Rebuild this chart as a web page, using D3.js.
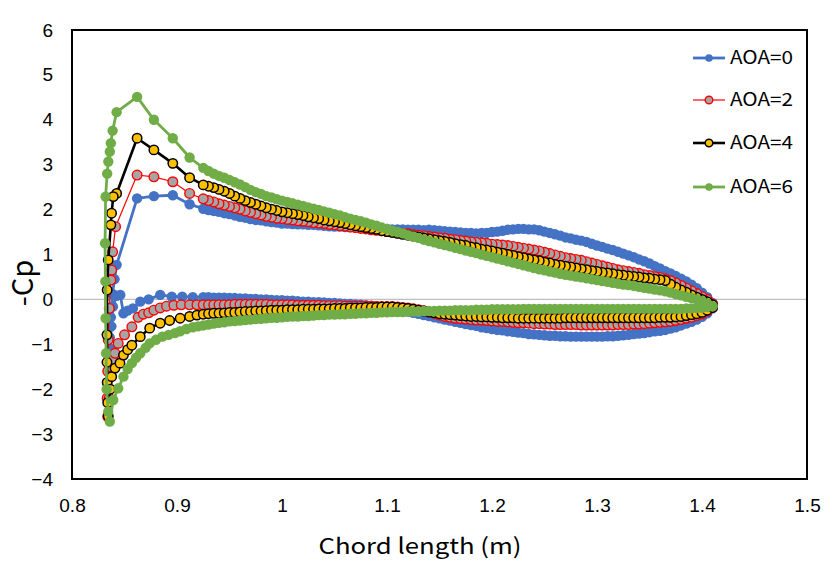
<!DOCTYPE html>
<html><head><meta charset="utf-8">
<script src="https://cdn.jsdelivr.net/npm/d3@7"></script>
<style>body{margin:0;background:#fff}</style>
</head><body>
<svg id="chart" width="836" height="563"></svg>
<script>
// ---- data ----
const seriesNames = ["AOA=0", "AOA=2", "AOA=4", "AOA=6"];
const xTicks = [0.8, 0.9, 1.0, 1.1, 1.2, 1.3, 1.4, 1.5];
const xTickLabels = ["0.8", "0.9", "1", "1.1", "1.2", "1.3", "1.4", "1.5"];
const yTicks = [-4, -3, -2, -1, 0, 1, 2, 3, 4, 5, 6];

// chord stations shared by the main body of both surfaces
const xBody = [
 0.925,0.93,0.935,0.94,0.945,0.95,0.955,0.96,0.965,0.97,
 0.975,0.98,0.985,0.99,0.995,1.0,1.005,1.01,1.015,1.02,
 1.025,1.03,1.035,1.04,1.045,1.05,1.055,1.06,1.065,1.07,
 1.075,1.08,1.085,1.09,1.095,1.1,1.105,1.11,1.115,1.12,
 1.125,1.13,1.135,1.14,1.145,1.15,1.155,1.16,1.165,1.17,
 1.175,1.18,1.185,1.19,1.195,1.2,1.205,1.21,1.215,1.22,
 1.225,1.23,1.235,1.24,1.245,1.25,1.255,1.26,1.265,1.27,
 1.275,1.28,1.285,1.29,1.295,1.3,1.305,1.31,1.315,1.32,
 1.325,1.33,1.335,1.34,1.345,1.35,1.355,1.36,1.365,1.37,
 1.375,1.38,1.385,1.39,1.395,1.4,1.405,1.41];

// AOA=0
const aoa0Upper = [
 2.02,1.99,1.97,1.95,1.92,1.90,1.87,1.84,1.82,1.79,
 1.77,1.76,1.74,1.72,1.71,1.69,1.69,1.68,1.67,1.67,
 1.66,1.66,1.65,1.64,1.63,1.62,1.62,1.61,1.61,1.60,
 1.60,1.59,1.59,1.58,1.58,1.57,1.56,1.56,1.56,1.55,
 1.55,1.55,1.54,1.55,1.54,1.53,1.52,1.51,1.50,1.49,
 1.48,1.48,1.47,1.48,1.48,1.50,1.51,1.53,1.55,1.56,
 1.57,1.57,1.56,1.56,1.54,1.51,1.48,1.45,1.42,1.38,
 1.36,1.33,1.31,1.28,1.24,1.20,1.17,1.13,1.10,1.06,
 1.02,0.98,0.94,0.89,0.85,0.80,0.74,0.69,0.63,0.58,
 0.52,0.46,0.40,0.33,0.25,0.15,0.05,-0.08];
const aoa0Lower = [
 0.05,0.05,0.04,0.04,0.04,0.03,0.03,0.02,0.02,0.01,
 0.01,0.00,0.00,-0.01,-0.02,-0.02,-0.03,-0.03,-0.04,-0.05,
 -0.05,-0.06,-0.06,-0.07,-0.08,-0.08,-0.09,-0.10,-0.10,-0.11,
 -0.12,-0.13,-0.14,-0.15,-0.17,-0.18,-0.20,-0.22,-0.25,-0.27,
 -0.30,-0.32,-0.35,-0.37,-0.40,-0.42,-0.45,-0.47,-0.50,-0.52,
 -0.55,-0.57,-0.59,-0.62,-0.64,-0.66,-0.68,-0.69,-0.71,-0.72,
 -0.74,-0.75,-0.77,-0.78,-0.79,-0.80,-0.81,-0.81,-0.82,-0.82,
 -0.83,-0.83,-0.83,-0.83,-0.83,-0.83,-0.83,-0.82,-0.82,-0.81,
 -0.80,-0.79,-0.77,-0.76,-0.75,-0.73,-0.71,-0.70,-0.68,-0.65,
 -0.62,-0.58,-0.54,-0.50,-0.45,-0.39,-0.31,-0.20];
const aoa0LeX = [0.912,0.896,0.878,0.862,0.8425,0.8405,0.8385,0.837,0.836,0.8365,0.8375,0.839,0.8425,0.846,0.849,0.853,0.858,0.865,0.873,0.884,0.895,0.905,0.915];
const aoa0LeY = [2.12,2.32,2.30,2.25,0.77,0.45,0.12,-0.40,-0.85,-1.10,-0.60,-0.16,0.08,0.10,-0.31,-0.25,-0.20,-0.05,0.00,0.10,0.06,0.06,0.05];

// AOA=2
const aoa2Upper = [
 2.24,2.20,2.17,2.13,2.10,2.07,2.04,2.01,1.97,1.94,
 1.91,1.88,1.85,1.83,1.81,1.80,1.78,1.77,1.75,1.74,
 1.73,1.71,1.70,1.69,1.67,1.66,1.64,1.63,1.61,1.60,
 1.58,1.57,1.55,1.54,1.53,1.51,1.50,1.48,1.47,1.46,
 1.44,1.43,1.42,1.40,1.39,1.37,1.36,1.34,1.33,1.31,
 1.30,1.28,1.27,1.26,1.25,1.23,1.22,1.21,1.20,1.18,
 1.16,1.14,1.12,1.10,1.08,1.05,1.02,0.99,0.96,0.93,
 0.91,0.89,0.87,0.84,0.81,0.78,0.75,0.72,0.69,0.66,
 0.64,0.62,0.60,0.58,0.55,0.53,0.51,0.49,0.46,0.42,
 0.37,0.31,0.25,0.19,0.13,0.06,0.00,-0.10];
const aoa2Lower = [
 -0.12,-0.12,-0.12,-0.12,-0.12,-0.12,-0.11,-0.11,-0.11,-0.11,
 -0.11,-0.11,-0.11,-0.12,-0.12,-0.12,-0.12,-0.12,-0.13,-0.13,
 -0.13,-0.13,-0.13,-0.14,-0.14,-0.14,-0.14,-0.15,-0.15,-0.15,
 -0.15,-0.15,-0.15,-0.16,-0.16,-0.16,-0.16,-0.17,-0.18,-0.19,
 -0.21,-0.23,-0.25,-0.28,-0.31,-0.35,-0.38,-0.40,-0.42,-0.43,
 -0.44,-0.45,-0.46,-0.46,-0.47,-0.48,-0.49,-0.49,-0.50,-0.51,
 -0.52,-0.52,-0.53,-0.54,-0.54,-0.55,-0.55,-0.56,-0.56,-0.56,
 -0.56,-0.56,-0.57,-0.57,-0.57,-0.57,-0.57,-0.57,-0.57,-0.56,
 -0.56,-0.56,-0.55,-0.55,-0.54,-0.53,-0.52,-0.51,-0.50,-0.49,
 -0.47,-0.45,-0.42,-0.40,-0.36,-0.32,-0.26,-0.18];
const aoa2LeX = [0.912,0.896,0.878,0.862,0.8415,0.8387,0.8377,0.837,0.8355,0.8345,0.834,0.8335,0.834,0.8355,0.837,0.8387,0.841,0.844,0.850,0.857,0.863,0.868,0.873,0.878,0.884,0.890,0.897,0.904,0.912,0.919];
const aoa2LeY = [2.36,2.62,2.73,2.77,1.62,1.06,0.65,0.43,-0.20,-0.90,-1.60,-2.20,-2.61,-2.20,-1.50,-1.35,-1.20,-0.98,-0.79,-0.61,-0.40,-0.33,-0.30,-0.24,-0.19,-0.15,-0.13,-0.12,-0.12,-0.12];

// AOA=4
const aoa4Upper = [
 2.55,2.52,2.49,2.45,2.41,2.36,2.30,2.25,2.20,2.16,
 2.12,2.08,2.04,2.01,1.98,1.95,1.93,1.91,1.89,1.87,
 1.84,1.82,1.80,1.77,1.75,1.73,1.71,1.69,1.66,1.64,
 1.62,1.60,1.58,1.56,1.53,1.51,1.49,1.47,1.45,1.43,
 1.41,1.39,1.37,1.35,1.33,1.31,1.29,1.27,1.24,1.22,
 1.20,1.17,1.15,1.12,1.10,1.08,1.05,1.03,1.00,0.98,
 0.95,0.93,0.90,0.88,0.86,0.83,0.81,0.78,0.76,0.74,
 0.72,0.70,0.68,0.66,0.64,0.62,0.60,0.59,0.57,0.55,
 0.54,0.52,0.51,0.50,0.48,0.47,0.45,0.44,0.42,0.34,
 0.27,0.21,0.16,0.10,0.05,0.00,-0.05,-0.12];
const aoa4Lower = [
 -0.33,-0.32,-0.31,-0.31,-0.30,-0.29,-0.29,-0.28,-0.27,-0.27,
 -0.26,-0.26,-0.25,-0.24,-0.24,-0.24,-0.23,-0.23,-0.23,-0.22,
 -0.22,-0.22,-0.21,-0.21,-0.21,-0.20,-0.20,-0.20,-0.19,-0.19,
 -0.19,-0.18,-0.18,-0.18,-0.17,-0.17,-0.17,-0.18,-0.19,-0.20,
 -0.22,-0.24,-0.26,-0.28,-0.30,-0.32,-0.33,-0.34,-0.35,-0.36,
 -0.37,-0.38,-0.38,-0.39,-0.39,-0.40,-0.40,-0.41,-0.41,-0.41,
 -0.42,-0.42,-0.42,-0.42,-0.42,-0.42,-0.42,-0.42,-0.42,-0.41,
 -0.41,-0.41,-0.41,-0.41,-0.41,-0.41,-0.41,-0.41,-0.41,-0.41,
 -0.41,-0.41,-0.41,-0.41,-0.41,-0.41,-0.41,-0.40,-0.40,-0.40,
 -0.39,-0.38,-0.36,-0.34,-0.32,-0.29,-0.24,-0.18];
const aoa4LeX = [0.912,0.896,0.878,0.862,0.8425,0.8393,0.8377,0.837,0.8345,0.8335,0.8333,0.8333,0.8335,0.834,0.8345,0.8365,0.8378,0.841,0.8457,0.849,0.853,0.857,0.865,0.874,0.884,0.893,0.903,0.912,0.919];
const aoa4LeY = [2.71,3.03,3.33,3.59,2.36,2.29,1.92,1.66,0.88,0.21,-0.79,-1.40,-1.85,-2.30,-2.60,-2.00,-1.72,-1.53,-1.42,-1.24,-1.12,-1.02,-0.83,-0.64,-0.53,-0.47,-0.42,-0.38,-0.35];

// AOA=6
const aoa6Upper = [
 2.93,2.86,2.80,2.75,2.71,2.66,2.61,2.56,2.50,2.44,
 2.39,2.35,2.30,2.27,2.23,2.20,2.17,2.14,2.11,2.08,
 2.05,2.02,1.99,1.96,1.93,1.90,1.87,1.83,1.80,1.77,
 1.74,1.71,1.67,1.64,1.60,1.57,1.53,1.50,1.47,1.43,
 1.40,1.37,1.33,1.30,1.27,1.24,1.21,1.18,1.15,1.12,
 1.09,1.06,1.03,1.00,0.97,0.94,0.91,0.88,0.85,0.82,
 0.79,0.76,0.73,0.70,0.67,0.65,0.62,0.60,0.57,0.55,
 0.53,0.51,0.49,0.47,0.45,0.43,0.41,0.39,0.37,0.35,
 0.33,0.32,0.30,0.28,0.26,0.24,0.22,0.20,0.18,0.15,
 0.12,0.09,0.06,0.03,0.00,-0.04,-0.09,-0.15];
const aoa6Lower = [
 -0.58,-0.56,-0.54,-0.52,-0.51,-0.49,-0.48,-0.47,-0.46,-0.45,
 -0.44,-0.43,-0.42,-0.41,-0.41,-0.40,-0.39,-0.38,-0.38,-0.37,
 -0.37,-0.36,-0.35,-0.35,-0.34,-0.34,-0.33,-0.33,-0.32,-0.32,
 -0.31,-0.31,-0.30,-0.30,-0.29,-0.29,-0.28,-0.28,-0.28,-0.27,
 -0.27,-0.27,-0.26,-0.26,-0.26,-0.25,-0.25,-0.25,-0.24,-0.24,
 -0.24,-0.24,-0.23,-0.23,-0.23,-0.22,-0.22,-0.22,-0.22,-0.22,
 -0.22,-0.21,-0.21,-0.21,-0.21,-0.21,-0.21,-0.21,-0.21,-0.21,
 -0.21,-0.21,-0.21,-0.21,-0.21,-0.21,-0.21,-0.21,-0.21,-0.21,
 -0.21,-0.21,-0.21,-0.21,-0.21,-0.21,-0.21,-0.21,-0.21,-0.21,
 -0.21,-0.21,-0.20,-0.20,-0.19,-0.19,-0.17,-0.15];
const aoa6LeX = [0.912,0.896,0.878,0.862,0.8425,0.8387,0.837,0.836,0.8346,0.8335,0.832,0.8315,0.8318,0.832,0.8325,0.833,0.8345,0.836,0.8393,0.844,0.849,0.853,0.857,0.861,0.865,0.870,0.874,0.880,0.886,0.892,0.898,0.903,0.909,0.915,0.920];
const aoa6LeY = [3.16,3.59,4.00,4.51,4.17,3.76,3.48,3.29,3.07,2.80,2.29,1.25,0.40,-0.42,-1.20,-2.00,-2.50,-2.72,-2.24,-1.98,-1.72,-1.55,-1.42,-1.30,-1.20,-1.08,-0.98,-0.90,-0.83,-0.79,-0.75,-0.71,-0.66,-0.62,-0.60];

// ---- build series (TE upper -> LE -> TE lower) ----
function buildPath(upper, leX, leY, lower) {
  const pts = [];
  for (let i = xBody.length - 1; i >= 0; i--) pts.push([xBody[i], upper[i]]);
  leX.forEach((x, i) => pts.push([x, leY[i]]));
  for (let i = 0; i < xBody.length; i++) pts.push([xBody[i], lower[i]]);
  return pts;
}
const styles = [
  {line: "#4472C4", lw: 2.8, fill: "#4472C4", stroke: "#4472C4", sw: 0, r: 5.2},
  {line: "#FF0000", lw: 1.2, fill: "#A5A5A5", stroke: "#FF0000", sw: 1.4, r: 4.8},
  {line: "#000000", lw: 2.6, fill: "#FFC000", stroke: "#000000", sw: 1.5, r: 4.7},
  {line: "#70AD47", lw: 2.8, fill: "#70AD47", stroke: "#70AD47", sw: 0, r: 5.2}
];
const series = [
  buildPath(aoa0Upper, aoa0LeX, aoa0LeY, aoa0Lower),
  buildPath(aoa2Upper, aoa2LeX, aoa2LeY, aoa2Lower),
  buildPath(aoa4Upper, aoa4LeX, aoa4LeY, aoa4Lower),
  buildPath(aoa6Upper, aoa6LeX, aoa6LeY, aoa6Lower)
];

// ---- drawing ----
const svg = d3.select("#chart");
const L = 72, R = 807, T = 30, B = 479;
const x = d3.scaleLinear().domain([0.8, 1.5]).range([L, R]);
const y = d3.scaleLinear().domain([-4, 6]).range([B, T]);

svg.append("rect").attr("width", 836).attr("height", 563).attr("fill", "#fff");

// zero line
svg.append("line").attr("x1", L).attr("x2", R).attr("y1", y(0)).attr("y2", y(0))
  .attr("stroke", "#BFBFBF").attr("stroke-width", 1.2);

const lineGen = d3.line().x(d => x(d[0])).y(d => y(d[1]));
series.forEach((pts, k) => {
  const s = styles[k];
  const g = svg.append("g");
  g.append("path").attr("d", lineGen(pts)).attr("fill", "none")
    .attr("stroke", s.line).attr("stroke-width", s.lw).attr("stroke-linejoin", "round");
  g.selectAll("circle").data(pts).join("circle")
    .attr("cx", d => x(d[0])).attr("cy", d => y(d[1])).attr("r", s.r)
    .attr("fill", s.fill).attr("stroke", s.sw ? s.stroke : "none").attr("stroke-width", s.sw);
});

// frame
svg.append("rect").attr("x", L).attr("y", T).attr("width", R - L).attr("height", B - T)
  .attr("fill", "none").attr("stroke", "#000").attr("stroke-width", 2);

// axes (labels only)
const xAxis = d3.axisBottom(x).tickValues(xTicks).tickFormat((d, i) => xTickLabels[i]).tickSize(0).tickPadding(20);
const gx = svg.append("g").attr("transform", `translate(0,${B})`).call(xAxis);
gx.select(".domain").remove();
gx.selectAll("text").attr("font-family", "Liberation Sans, Arial, sans-serif").attr("font-size", 19).attr("fill", "#000");

const yAxis = d3.axisLeft(y).tickValues(yTicks).tickFormat(d3.format("d")).tickSize(0).tickPadding(19);
const gy = svg.append("g").attr("transform", `translate(${L},0)`).call(yAxis);
gy.select(".domain").remove();
gy.selectAll("text").attr("font-family", "Liberation Sans, Arial, sans-serif").attr("font-size", 19).attr("fill", "#000");

// axis titles
svg.append("text").attr("x", 420).attr("y", 554).attr("text-anchor", "middle")
  .attr("font-family", "Noto Sans CJK KR, Noto Sans, sans-serif").attr("font-size", 22).attr("fill", "#000")
  .attr("textLength", 203).attr("lengthAdjust", "spacingAndGlyphs")
  .text("Chord length (m)");
svg.append("text").attr("transform", "translate(33,283) rotate(-90)").attr("text-anchor", "middle")
  .attr("font-family", "Noto Sans CJK KR, Noto Sans, sans-serif").attr("font-size", 29).attr("fill", "#000")
  .text("-Cp");

// legend
const legY = [58, 100, 143, 187];
seriesNames.forEach((name, k) => {
  const s = styles[k];
  const g = svg.append("g").attr("transform", `translate(0,${legY[k]})`);
  g.append("line").attr("x1", 693).attr("x2", 725).attr("y1", 0).attr("y2", 0)
    .attr("stroke", s.line).attr("stroke-width", s.lw);
  g.append("circle").attr("cx", 709).attr("cy", 0).attr("r", 3.8)
    .attr("fill", s.fill).attr("stroke", s.sw ? s.stroke : "none").attr("stroke-width", s.sw);
  g.append("text").attr("x", 730).attr("y", 0).attr("dy", "0.35em")
    .attr("font-family", "Noto Sans CJK KR, Noto Sans, sans-serif").attr("font-size", 18).attr("fill", "#000")
    .attr("textLength", 63).attr("lengthAdjust", "spacingAndGlyphs")
    .text(name);
});
</script>
</body></html>
